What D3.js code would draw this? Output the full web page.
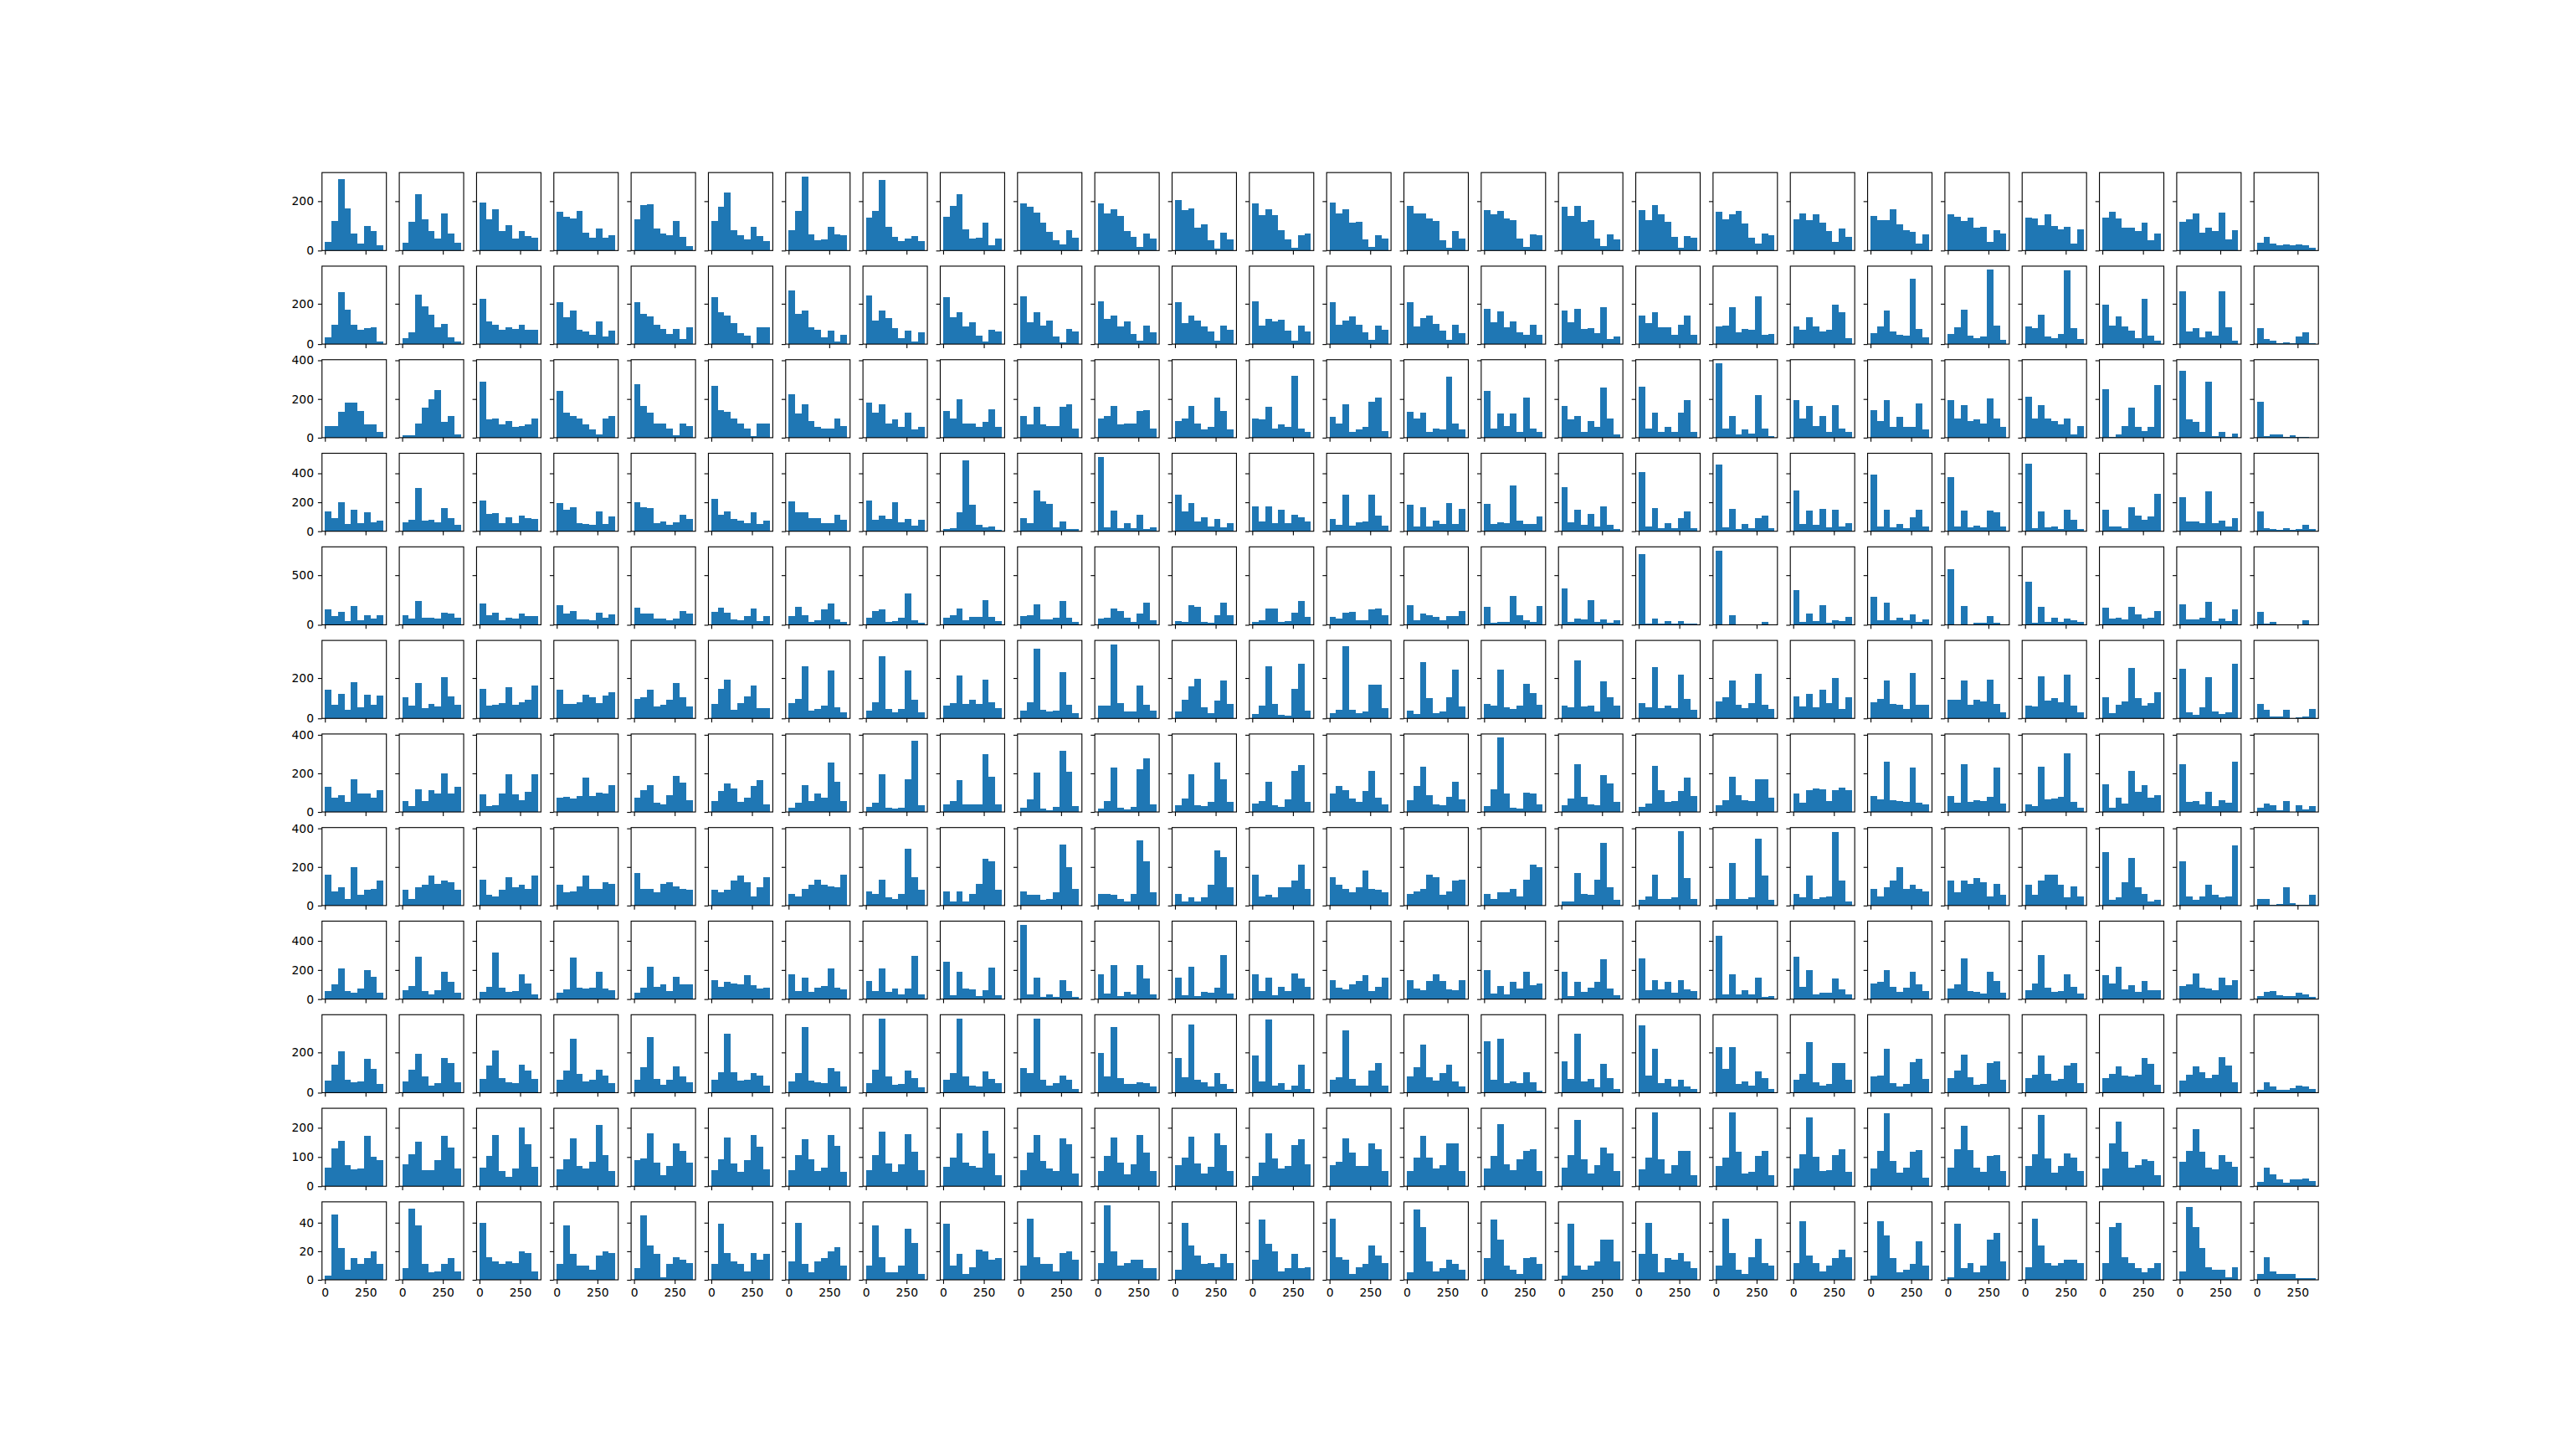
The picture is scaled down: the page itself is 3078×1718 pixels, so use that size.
<!DOCTYPE html>
<html>
<head>
<meta charset="utf-8">
<script src="https://cdn.jsdelivr.net/npm/d3@7"></script>
<style>
  html, body { margin: 0; padding: 0; background: #ffffff; }
  svg { display: block; }
</style>
</head>
<body>
<div id="chart"></div>
<script>
// ---------------- DATA ----------------
// Histogram bin edges (shared by all panels)
const binEdges = [0, 40, 80, 120, 160, 200, 240, 280, 320, 360];
// x tick labels (bottom row only)
const xTicks = [0, 250];
// y tick values for each row (labels shown in first column only)
const yTicks = [
  [0, 200], [0, 200], [0, 200, 400], [0, 200, 400], [0, 500], [0, 200],
  [0, 200, 400], [0, 200, 400], [0, 200, 400], [0, 200], [0, 100, 200], [0, 20, 40]
];

// counts per bin, one array per panel, 26 panels per row
const row0 = [
[35,120,291,172,69,28,100,80,22],[32,117,229,127,80,49,151,69,32],[195,127,168,80,103,49,80,58,52],
[158,137,131,161,73,52,90,52,62],[127,185,189,90,69,62,120,56,18],[120,178,236,83,62,45,97,59,39],
[83,161,301,66,42,45,97,66,62],[134,161,287,97,56,39,49,59,39],[137,182,229,86,49,52,114,22,49],
[192,178,155,114,76,42,25,83,52],[192,151,168,141,80,56,15,69,49],[206,165,172,93,107,42,8,73,45],
[192,144,168,144,83,45,11,62,69],[195,151,168,114,117,45,15,62,49],[182,151,151,131,120,42,11,80,49],
[165,148,161,131,124,49,15,66,62],[178,141,182,117,124,49,18,66,45],[165,124,185,148,117,56,11,59,52],
[158,127,148,161,110,52,28,69,62],[127,151,124,148,114,80,35,90,56],[141,124,124,168,107,83,76,28,66],
[148,137,120,134,93,97,35,83,69],[134,131,103,148,100,86,97,28,86],[134,158,131,93,93,80,114,42,69],
[117,127,151,73,93,80,155,45,83],[32,56,28,22,25,22,25,22,11]
];
const row1 = [
[35,97,256,172,97,72,81,85,14],[31,60,247,189,147,85,101,35,14],[226,114,97,72,85,76,97,72,72],
[206,135,168,72,64,47,114,39,68],[206,151,139,97,76,51,76,26,85],[231,156,143,106,56,43,6,85,85],
[264,151,168,85,72,35,68,14,47],[239,118,168,131,81,31,68,14,60],[231,135,156,89,110,43,14,72,64],
[235,110,160,93,118,39,10,76,64],[214,126,143,89,114,51,18,93,60],[206,106,143,118,89,64,18,93,72],
[210,93,126,114,122,68,18,93,64],[206,97,118,139,97,60,22,93,72],[206,89,131,143,101,68,22,97,56],
[176,110,164,85,114,60,47,97,47],[168,110,176,76,81,56,181,26,39],[143,106,156,85,85,47,97,143,47],
[89,93,181,60,76,72,235,47,51],[89,72,135,89,64,72,197,160,31],[56,89,168,64,47,43,326,76,35],
[51,85,172,43,31,39,368,93,22],[89,81,147,39,31,51,364,81,26],[197,93,139,89,68,31,226,43,18],
[260,64,81,35,64,43,260,85,18],[81,26,18,6,10,6,39,60,6]
];
const row2 = [
[62,62,132,180,180,136,67,67,32],[14,14,75,154,197,245,80,114,19],[288,93,97,67,84,54,62,67,97],
[241,128,110,97,67,41,19,97,110],[275,162,128,75,75,49,14,75,62],[267,141,132,97,71,49,10,71,75],
[223,123,171,84,58,49,49,97,62],[180,128,171,71,93,54,128,41,54],[136,101,197,75,71,54,80,145,58],
[114,67,158,67,62,62,158,171,49],[101,110,162,67,75,71,136,141,49],[88,101,162,71,45,54,206,136,45],
[97,93,158,49,67,58,319,49,28],[106,75,171,28,45,58,184,206,36],[132,101,128,32,49,41,314,71,41],
[241,49,123,62,123,28,206,49,32],[162,93,110,32,84,58,258,97,19],[262,49,128,32,54,32,128,193,32],
[384,49,114,19,41,23,219,49,10],[193,101,162,62,114,32,167,49,32],[141,88,193,58,106,54,58,175,41],
[193,101,167,88,93,75,201,101,58],[210,97,167,101,88,67,101,19,62],[249,6,19,62,154,58,36,58,271],
[345,93,80,28,288,10,32,6,23],[184,10,19,19,2,14,2,4,0]
];
const row3 = [
[135,89,199,48,147,54,129,60,71],[60,77,298,71,77,60,158,89,43],[211,118,124,54,95,54,106,89,83],
[193,147,164,54,48,43,135,48,100],[199,164,158,54,66,43,60,112,83],[222,112,135,83,71,54,129,48,71],
[205,129,129,89,89,54,54,112,77],[211,77,106,83,199,60,83,37,77],[14,19,129,489,182,43,25,31,8],
[89,54,280,205,187,25,66,14,14],[513,25,141,19,54,19,112,14,25],[251,135,193,66,95,31,83,25,54],
[170,66,170,54,147,54,112,95,66],[83,43,251,37,60,66,251,106,37],[182,31,164,31,71,48,193,48,153],
[187,48,60,54,315,71,48,48,100],[303,60,147,43,118,31,170,43,14],[408,31,158,19,54,19,89,135,19],
[460,25,153,14,48,19,89,106,19],[280,48,141,43,153,25,147,31,54],[390,31,147,25,48,19,95,147,31],
[373,31,141,25,37,25,141,129,31],[466,19,135,25,31,14,147,77,14],[147,31,31,19,164,106,77,100,257],
[234,66,66,54,274,54,71,31,89],[135,19,14,8,19,8,14,43,14]
];
const row4 = [
[155,88,130,37,189,45,96,62,96],[96,62,240,71,71,62,121,113,71],[215,96,121,45,71,62,113,88,88],
[198,113,138,54,54,45,121,71,105],[172,113,113,62,62,45,62,138,113],[130,172,121,54,45,88,164,37,88],
[88,181,96,28,45,155,215,54,28],[71,138,155,28,37,71,316,45,20],[71,96,164,45,79,79,249,79,37],
[88,96,206,54,54,71,240,71,28],[62,71,164,138,71,28,113,223,45],[37,28,198,181,28,20,96,223,96],
[28,45,164,164,28,37,121,240,79],[79,62,121,130,45,45,155,164,96],[198,45,113,96,79,45,88,88,138],
[181,20,28,28,291,96,45,28,189],[367,28,62,54,249,28,54,20,45],[715,11,62,11,37,11,37,11,11],
[748,2,96,6,6,0,2,28,2],[350,28,113,37,198,20,45,37,79],[282,45,223,45,71,45,105,28,54],
[562,2,189,2,20,20,88,20,2],[435,20,181,28,71,28,62,45,28],[172,62,71,54,181,105,62,71,138],
[206,54,54,71,232,37,62,37,155],[130,11,28,2,2,6,2,45,0]
];
const row5 = [
[143,68,122,43,181,56,118,68,114],[106,64,176,51,72,60,206,110,68],[147,64,68,76,156,68,81,93,164],
[143,72,72,81,118,106,76,114,131],[97,106,143,60,68,93,176,106,60],[72,147,193,43,76,110,164,51,51],
[76,97,260,39,47,64,239,56,31],[39,81,310,47,31,47,239,93,31],[64,76,214,72,93,72,193,81,51],
[39,81,347,43,35,39,231,68,26],[64,64,368,76,35,35,164,68,39],[35,93,160,197,56,26,89,189,72],
[22,64,260,72,18,14,147,272,39],[26,43,356,43,26,35,168,168,51],[39,22,281,101,26,35,106,243,60],
[72,64,243,56,47,64,172,126,68],[64,56,289,60,64,35,185,106,64],[76,56,256,51,64,51,218,97,43],
[85,106,189,68,51,76,222,68,47],[110,60,122,56,143,76,201,47,106],[81,97,189,72,68,47,226,68,68],
[93,93,189,68,93,85,193,72,31],[64,60,210,89,101,81,218,64,31],[106,26,68,85,251,101,64,76,131],
[247,31,18,56,206,35,22,31,272],[72,43,10,10,43,2,6,10,47]
];
const row6 = [
[132,75,88,54,171,97,97,75,114],[58,32,119,58,114,97,201,97,132],[93,32,36,97,197,93,62,106,197],
[75,80,71,84,180,84,101,97,141],[75,114,141,49,41,88,188,154,62],[58,110,149,123,54,75,136,167,41],
[23,49,141,58,97,75,258,158,58],[28,49,197,23,19,23,171,367,36],[41,58,167,41,41,41,301,184,41],
[23,67,206,19,10,28,319,210,32],[19,58,232,23,14,28,223,280,41],[36,71,197,36,32,54,258,171,54],
[45,58,158,36,28,67,214,245,54],[97,136,114,71,54,110,214,75,41],[62,136,236,88,41,36,80,158,67],
[32,119,385,97,23,19,101,97,41],[36,71,249,80,41,36,193,149,54],[28,45,241,114,54,58,110,180,84],
[36,62,184,88,62,58,171,171,75],[97,49,114,123,119,58,114,128,114],[84,67,262,62,58,54,232,49,41],
[84,49,249,54,62,58,80,232,45],[41,32,236,67,71,80,306,54,23],[145,23,75,45,214,106,141,75,88],
[249,54,58,41,106,32,62,49,262],[23,45,36,10,58,2,36,14,32]
];
const row7 = [
[158,75,97,32,201,54,80,84,128],[80,36,97,106,154,114,128,119,80],[136,54,49,80,149,93,110,88,154],
[106,67,75,101,154,88,84,123,114],[167,88,88,67,114,119,101,84,80],[80,67,80,128,154,119,45,93,145],
[58,49,88,106,136,110,101,97,162],[71,58,136,41,32,58,293,149,80],[71,23,71,19,62,114,241,228,80],
[71,54,54,28,36,67,314,201,88],[58,62,54,32,23,58,336,228,67],[58,19,41,19,41,106,284,249,97],
[162,45,54,41,93,93,128,210,88],[145,110,84,67,97,180,84,80,67],[58,71,88,158,145,54,71,128,136],
[62,32,67,67,84,45,136,214,201],[19,23,167,62,54,136,323,97,28],[28,45,162,36,36,41,385,141,36],
[32,32,219,36,32,41,345,154,28],[62,41,154,36,41,49,380,128,23],[84,49,97,128,201,88,106,88,71],
[128,67,128,114,141,119,49,114,54],[110,54,128,162,158,110,41,101,49],[275,28,41,119,245,93,62,23,28],
[228,49,28,49,110,54,41,45,310],[32,32,4,9,93,14,4,4,54]
];
const row8 = [
[53,99,213,53,42,70,202,156,42],[59,88,293,53,30,59,185,116,42],[48,82,322,76,48,53,168,105,30],
[42,65,288,76,70,76,185,70,59],[42,76,225,82,99,53,156,99,99],[128,82,116,105,99,162,93,70,76],
[168,53,145,48,76,88,213,76,65],[122,53,208,48,70,30,70,299,30],[259,25,190,70,65,19,59,219,25],
[510,30,145,13,30,13,128,53,13],[168,36,236,19,48,30,231,139,30],[150,25,225,19,48,42,76,305,36],
[168,53,150,25,82,53,179,139,82],[133,76,65,99,122,162,53,82,145],[133,70,59,122,173,122,65,59,128],
[202,36,88,30,116,70,190,93,105],[185,19,116,48,76,116,276,70,25],[282,59,128,65,116,42,128,65,53],
[436,30,168,30,59,30,145,13,19],[293,82,202,30,42,42,139,65,30],[105,116,202,82,48,76,185,99,53],
[70,99,282,53,48,36,185,122,42],[59,105,305,76,48,53,173,82,36],[162,105,225,65,93,48,122,59,59],
[88,99,179,76,70,59,145,93,128],[19,48,53,25,19,19,42,30,13]
];
const row9 = [
[60,139,206,64,51,56,168,118,43],[56,114,193,81,35,47,172,147,51],[68,135,210,72,51,47,139,110,68],
[64,110,268,93,56,64,114,85,47],[64,126,276,68,39,64,131,81,51],[64,101,293,101,60,64,97,85,35],
[56,97,326,60,51,47,122,106,31],[47,114,369,81,39,43,110,72,26],[64,97,368,81,35,31,106,68,47],
[122,97,368,64,35,47,85,64,18],[197,81,326,72,43,43,51,47,31],[172,76,339,64,51,31,97,43,18],
[185,56,364,35,47,14,35,139,18],[64,76,310,68,35,35,110,147,35],[81,126,239,76,60,97,139,56,31],
[256,64,268,47,56,47,101,51,10],[156,68,293,56,68,26,143,72,18],[335,85,218,47,68,31,64,31,18],
[226,118,226,43,56,35,106,72,18],[64,93,251,51,35,43,147,147,64],[81,85,218,47,31,43,151,168,68],
[72,110,189,76,39,43,147,156,64],[72,89,185,93,60,68,135,147,47],[72,93,131,85,81,89,172,143,39],
[60,89,131,101,72,89,176,135,51],[14,51,31,14,14,22,35,31,18]
];
const row10 = [
[64,130,156,73,58,61,173,101,90],[76,110,153,56,56,90,173,133,61],[64,104,176,53,33,61,202,145,67],
[58,93,165,70,61,84,211,107,53],[90,96,182,81,38,70,147,122,81],[56,93,167,78,50,90,176,136,58],
[56,107,162,93,53,64,176,139,50],[56,107,188,78,50,76,179,119,56],[67,99,182,81,70,64,190,113,38],
[56,116,176,87,61,53,165,145,44],[53,104,167,81,41,76,176,116,53],[73,99,170,78,44,67,182,142,53],
[35,81,182,96,61,70,142,162,76],[73,84,165,116,70,70,147,127,53],[53,99,173,99,61,73,147,147,53],
[61,104,213,76,56,93,122,127,53],[64,107,228,93,44,73,133,113,53],[58,99,254,93,44,73,122,122,38],
[70,99,254,119,44,50,104,122,38],[61,110,236,101,53,56,107,127,50],[61,122,251,87,47,64,119,124,30],
[64,127,208,124,64,50,104,107,53],[70,110,245,96,47,70,113,99,53],[61,147,222,119,64,73,93,87,38],
[84,122,196,119,64,58,107,84,67],[15,64,41,24,12,24,24,27,18]
];
const row11 = [
[3,46,22,7,15,11,15,20,11],[8,50,38,11,5,6,11,15,6],[40,16,13,11,13,12,20,19,6],
[11,38,18,10,10,7,17,20,19],[8,45,24,18,2,11,16,14,12],[11,39,19,13,11,6,19,14,18],
[13,40,11,5,13,15,20,23,10],[10,38,16,5,5,10,36,26,4],[39,10,18,4,9,21,20,14,15],
[10,43,16,11,11,6,19,20,14],[12,52,20,10,12,14,14,8,8],[7,40,24,17,11,12,9,18,12],
[14,42,25,20,6,8,18,8,9],[43,16,14,4,9,11,24,17,12],[5,49,37,13,6,8,14,11,7],
[15,42,28,10,7,4,15,16,11],[3,39,10,7,10,13,28,28,13],[18,40,18,5,15,14,19,13,8],
[10,43,19,7,4,16,29,12,10],[12,41,17,12,6,10,15,21,16],[3,41,31,15,5,7,11,27,10],
[2,39,8,12,5,10,28,33,13],[9,43,24,12,10,12,14,14,12],[12,37,40,16,12,8,5,8,12],
[6,51,37,22,9,7,7,2,9],[4,16,6,4,4,4,1,1,1]
];

const rows = [row0, row1, row2, row3, row4, row5, row6, row7, row8, row9, row10, row11];

(function () {
  // ---------------- LAYOUT ----------------
  const W = 3078, H = 1718;
  const mLeft = 0.125 * W, mRight = 0.9 * W;
  const mTop = (1 - 0.88) * H, mBottom = (1 - 0.11) * H;
  const nRows = rows.length, nCols = rows[0].length;
  const wspace = 0.2, hspace = 0.2;
  const axW = (mRight - mLeft) / (nCols + (nCols - 1) * wspace);
  const axH = (mBottom - mTop) / (nRows + (nRows - 1) * hspace);
  const pt = 100 / 72;              // points -> pixels at dpi 100
  const tickLen = 3.5 * pt, tickPad = 3.5 * pt;
  const lineW = 0.8 * pt;
  const fontSize = 10 * pt;
  const barColor = "#1f77b4";

  const svg = d3.select("#chart").append("svg")
    .attr("width", W).attr("height", H)
    .attr("viewBox", `0 0 ${W} ${H}`);
  svg.append("rect").attr("width", W).attr("height", H).attr("fill", "#ffffff");

  const xMin = binEdges[0], xMax = binEdges[binEdges.length - 1];
  const xSpan = xMax - xMin;
  const x = d3.scaleLinear()
    .domain([xMin - 0.05 * xSpan, xMax + 0.05 * xSpan])
    .range([0, axW]);

  rows.forEach((rowData, r) => {
    const rowMax = d3.max(rowData, d => d3.max(d));
    const y = d3.scaleLinear().domain([0, rowMax * 1.05]).range([axH, 0]);

    rowData.forEach((counts, c) => {
      const gx = mLeft + c * axW * (1 + wspace);
      const gy = mTop + r * axH * (1 + hspace);
      const g = svg.append("g").attr("transform", `translate(${gx},${gy})`);

      // bars
      g.append("g").selectAll("rect")
        .data(counts.map((v, i) => ({ v, x0: binEdges[i], x1: binEdges[i + 1] })).filter(d => d.v > 0))
        .join("rect")
        .attr("x", d => x(d.x0))
        .attr("width", d => x(d.x1) - x(d.x0))
        .attr("y", d => y(d.v))
        .attr("height", d => axH - y(d.v))
        .attr("fill", barColor)
        .attr("shape-rendering", "crispEdges");

      // y axis ticks
      const yAxis = d3.axisLeft(y)
        .tickValues(yTicks[r])
        .tickSize(tickLen)
        .tickPadding(tickPad)
        .tickFormat(c === 0 ? d3.format("d") : () => "");
      const ya = g.append("g").call(yAxis);
      ya.select(".domain").remove();
      ya.selectAll("line").attr("stroke", "#000").attr("stroke-width", lineW);
      ya.selectAll("text").attr("fill", "#000")
        .style("font-family", "'DejaVu Sans', sans-serif").style("font-size", fontSize + "px");

      // x axis ticks
      const xAxis = d3.axisBottom(x)
        .tickValues(xTicks)
        .tickSize(tickLen)
        .tickPadding(tickPad)
        .tickFormat(r === nRows - 1 ? d3.format("d") : () => "");
      const xa = g.append("g").attr("transform", `translate(0,${axH})`).call(xAxis);
      xa.select(".domain").remove();
      xa.selectAll("line").attr("stroke", "#000").attr("stroke-width", lineW);
      xa.selectAll("text").attr("fill", "#000")
        .style("font-family", "'DejaVu Sans', sans-serif").style("font-size", fontSize + "px");

      // spines
      g.append("rect")
        .attr("x", 0).attr("y", 0).attr("width", axW).attr("height", axH)
        .attr("fill", "none").attr("stroke", "#000").attr("stroke-width", lineW);
    });
  });
})();
</script>
</body>
</html>
